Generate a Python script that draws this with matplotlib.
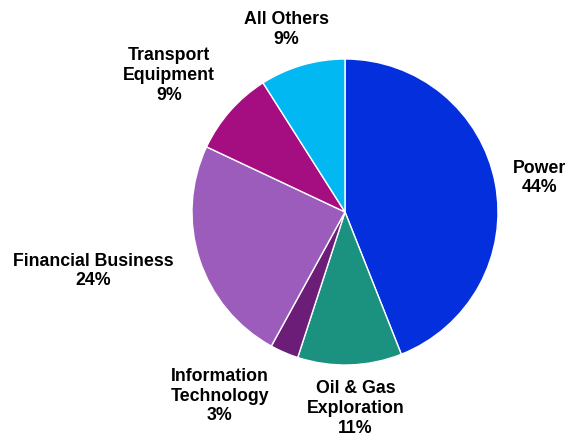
import matplotlib.pyplot as plt
import numpy as np

plt.rcParams['font.family'] = ['Liberation Sans', 'DejaVu Sans']

sectors = ['Power', 'Oil & Gas\nExploration', 'Information\nTechnology',
           'Financial Business', 'Transport\nEquipment', 'All Others']
shares = [44, 11, 3, 24, 9, 9]
colors = ['#0330DC', '#1B917F', '#6B1D78', '#9B5CBC', '#A50E80', '#02B8F2']

# label distance from centre (in radii) and angular nudge (degrees)
label_r = [1.29, 1.28, 1.45, 1.69, 1.46, 1.26]
label_shift = [-0.6, 1.3, -11.0, -5.0, 3.4, 1.6]

fig = plt.figure(figsize=(5.78, 4.39), dpi=100)
ax = fig.add_axes([0, 0, 1, 1])

wedges, _ = ax.pie(shares, colors=colors, startangle=90, counterclock=False,
                   radius=1.0,
                   wedgeprops=dict(edgecolor='white', linewidth=1.0))

total = float(sum(shares))
start = 90.0
for i, (name, val) in enumerate(zip(sectors, shares)):
    mid = start - val / total * 360.0 / 2
    start -= val / total * 360.0
    ang = np.radians(mid + label_shift[i])
    x = label_r[i] * np.cos(ang)
    y = label_r[i] * np.sin(ang)
    ax.text(x, y, '{0}\n{1}%'.format(name, val), ha='center', va='center',
            fontsize=12.8, fontweight='bold', linespacing=1.2)

R = 153.0
ax.set_xlim(-345 / R, (578 - 345) / R)
ax.set_ylim(-(439 - 213) / R, 213 / R)
ax.set_aspect('equal')
ax.axis('off')

plt.savefig('out.png', dpi=100)
